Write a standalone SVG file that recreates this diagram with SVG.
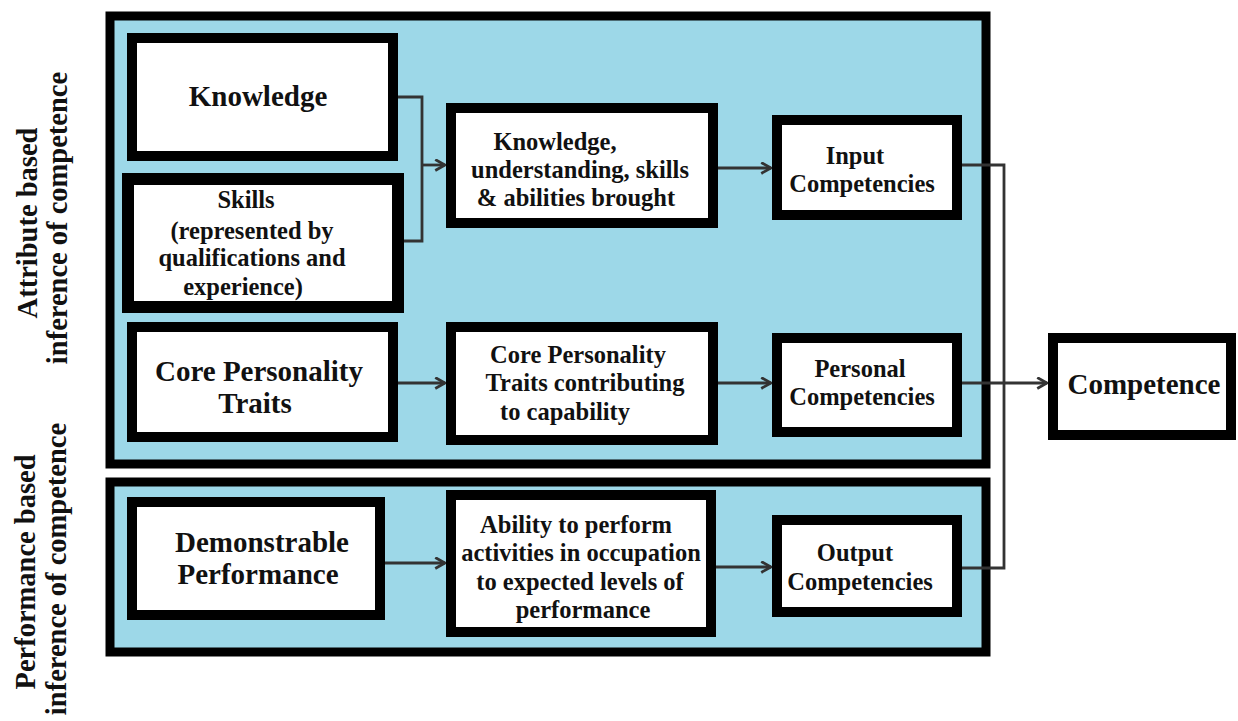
<svg xmlns="http://www.w3.org/2000/svg" width="1238" height="721" viewBox="0 0 1238 721">
<style>
.panel{fill:#9dd8e8;stroke:#000;stroke-width:9}
.box{fill:#fff;stroke:#000;stroke-width:10}
.t{font-family:"Liberation Serif","Times New Roman",serif;font-weight:bold;fill:#111;text-anchor:middle}
.big{font-size:29px}
.sm{font-size:24.5px}
.side{font-size:28.5px}
.con{fill:none;stroke:#333;stroke-width:2.8}
</style>
<defs>
<marker id="ah" viewBox="0 0 12 12" refX="11" refY="6" markerWidth="13" markerHeight="13" markerUnits="userSpaceOnUse" orient="auto">
<polyline points="2,1 11,6 2,11" fill="none" stroke="#333" stroke-width="2.6"/>
</marker>
</defs>
<rect width="1238" height="721" fill="#fff"/>
<g id="panel-attribute"><rect class="panel" x="110" y="16" width="876" height="448"/></g>
<g id="panel-performance"><rect class="panel" x="110" y="482" width="876" height="170"/></g>
<g id="label-attribute">
<text class="t side" transform="translate(37,223) rotate(-90)">Attribute based</text>
<text class="t side" transform="translate(67,218) rotate(-90)">inference of competence</text>
</g>
<g id="label-performance">
<text class="t side" transform="translate(35,572) rotate(-90)">Performance based</text>
<text class="t side" transform="translate(66,569) rotate(-90)">inference of competence</text>
</g>
<g id="connectors">
<polyline class="con" points="398,97 422,97 422,241 404,241"/>
<line class="con" x1="422" y1="165" x2="445" y2="165" marker-end="url(#ah)"/>
<line class="con" x1="718" y1="168" x2="771" y2="168" marker-end="url(#ah)"/>
<line class="con" x1="398" y1="383" x2="445" y2="383" marker-end="url(#ah)"/>
<line class="con" x1="718" y1="383" x2="771" y2="383" marker-end="url(#ah)"/>
<line class="con" x1="385" y1="563" x2="445" y2="563" marker-end="url(#ah)"/>
<line class="con" x1="716" y1="567" x2="771" y2="567" marker-end="url(#ah)"/>
<polyline class="con" points="962,165 1004,165 1004,568 962,568"/>
<line class="con" x1="962" y1="383" x2="1047" y2="383" marker-end="url(#ah)"/>
</g>
<g id="knowledge"><rect class="box" x="132" y="38" width="261" height="118"/><text class="t big" x="258" y="106">Knowledge</text></g>
<g id="skills"><rect class="box" x="128" y="179" width="270" height="128" style="stroke-width:12"/>
<text class="t sm" x="246" y="208">Skills</text>
<text class="t sm" x="252" y="239">(represented by</text>
<text class="t sm" x="252" y="266">qualifications and</text>
<text class="t sm" x="243" y="295">experience)</text></g>
<g id="kusab"><rect class="box" x="451" y="108" width="262" height="115"/>
<text class="t sm" x="555" y="150">Knowledge,</text>
<text class="t sm" x="580" y="178">understanding, skills</text>
<text class="t sm" x="576" y="206">&amp; abilities brought</text></g>
<g id="input"><rect class="box" x="777" y="120" width="180" height="95"/>
<text class="t sm" x="855" y="164">Input</text>
<text class="t sm" x="862" y="192">Competencies</text></g>
<g id="core"><rect class="box" x="132" y="327" width="261" height="110"/>
<text class="t big" x="259" y="381">Core Personality</text>
<text class="t big" x="255" y="413">Traits</text></g>
<g id="coretraits"><rect class="box" x="451" y="327" width="262" height="113"/>
<text class="t sm" x="578" y="363">Core Personality</text>
<text class="t sm" x="585" y="391">Traits contributing</text>
<text class="t sm" x="565" y="420">to capability</text></g>
<g id="personal"><rect class="box" x="777" y="338" width="180" height="94"/>
<text class="t sm" x="860" y="377">Personal</text>
<text class="t sm" x="862" y="405">Competencies</text></g>
<g id="competence"><rect class="box" x="1053" y="338" width="178" height="97"/>
<text class="t big" x="1144" y="394">Competence</text></g>
<g id="demonstrable"><rect class="box" x="132" y="502" width="248" height="113"/>
<text class="t big" x="262" y="552">Demonstrable</text>
<text class="t big" x="258" y="584">Performance</text></g>
<g id="ability"><rect class="box" x="451" y="495" width="260" height="137"/>
<text class="t sm" x="576" y="533">Ability to perform</text>
<text class="t sm" x="581" y="561">activities in occupation</text>
<text class="t sm" x="580" y="590">to expected levels of</text>
<text class="t sm" x="583" y="618">performance</text></g>
<g id="output"><rect class="box" x="777" y="520" width="180" height="92"/>
<text class="t sm" x="855" y="561">Output</text>
<text class="t sm" x="860" y="590">Competencies</text></g>
</svg>
